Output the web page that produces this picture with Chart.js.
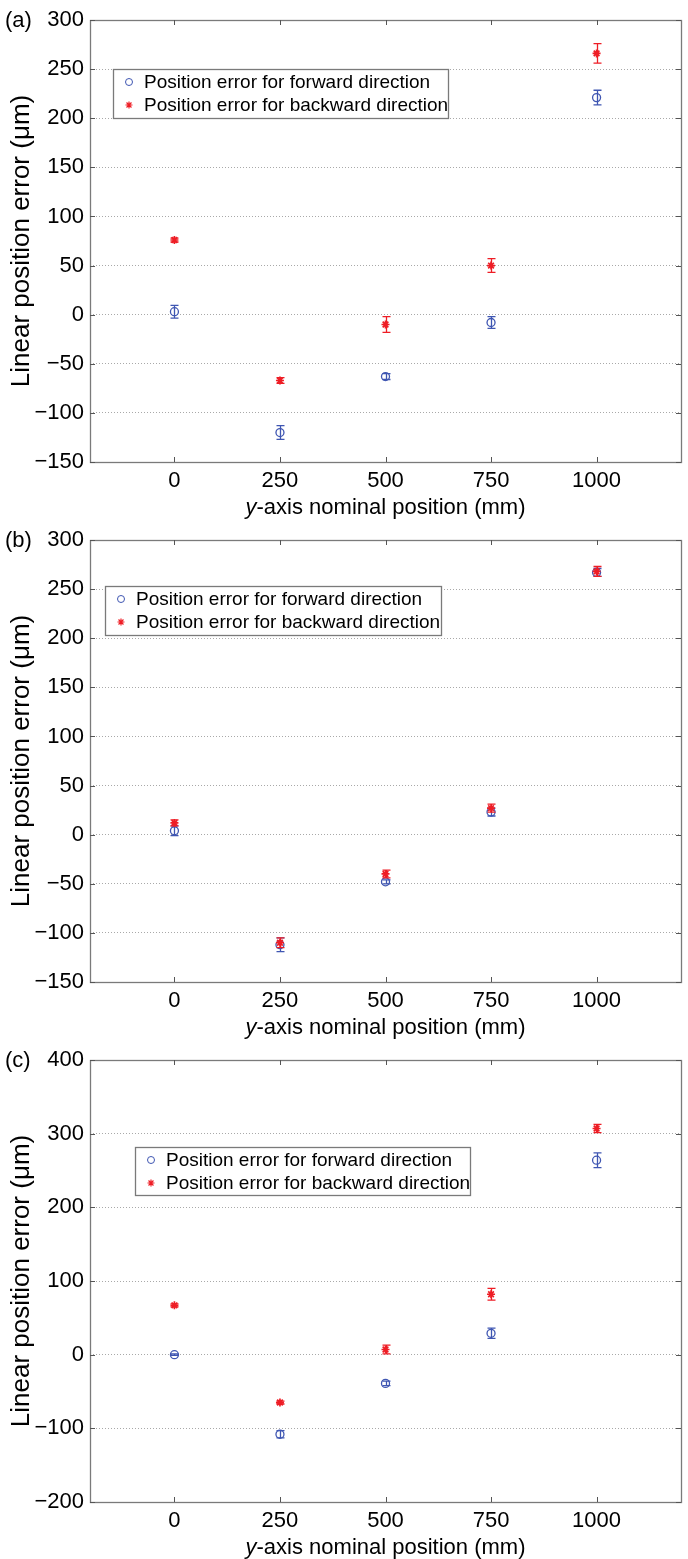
<!DOCTYPE html>
<html><head><meta charset="utf-8">
<script src="https://cdn.jsdelivr.net/npm/chart.js@4.4.1/dist/chart.umd.min.js"></script>
<style>
html,body{margin:0;padding:0;background:#fff;}
canvas{display:block;}
</style></head><body>
<canvas id="ca" width="688" height="520"></canvas>
<canvas id="cb" width="688" height="520"></canvas>
<canvas id="cc" width="688" height="519"></canvas>
<script>
// ---- data ----
const xPositions = [0, 250, 500, 750, 1000];
const xTickValues = [0, 250, 500, 750, 1000];
const legendLabels = ['Position error for forward direction', 'Position error for backward direction'];
const panelLabels = ['(a)', '(b)', '(c)'];

const forwardA = [3, -120, -63, -8, 221];
const forwardErrA = [6.5, 7, 3, 6, 7.5];
const backwardA = [76, -67, -10, 50, 266];
const backwardErrA = [2, 3, 8, 7, 10];

const forwardB = [4, -112, -48, 23, 267];
const forwardErrB = [5, 7, 2, 4, 4];
const backwardB = [12, -110, -40, 27, 268];
const backwardErrB = [3, 5, 4, 4, 5];

const forwardC = [0, -108, -39, 29, 264];
const forwardErrC = [1, 5, 3, 7, 10];
const backwardC = [67, -65, 7, 82, 307];
const backwardErrC = [2, 2, 6, 8, 5.5];

const yRangeA = [-150, 300, 50];
const yRangeB = [-150, 300, 50];
const yRangeC = [-200, 400, 100];

// ---- style ----
const FONT = "'Liberation Sans', Arial, Helvetica, sans-serif";
const BLUE = '#3f56b2';
const RED = '#ee1d25';

function drawMarker(c, style, x, y, r, col, lw) {
  c.save();
  c.strokeStyle = col; c.lineWidth = lw;
  c.beginPath();
  if (style === 'circle') {
    c.arc(x, y, r, 0, Math.PI * 2);
  } else {
    const d = r * Math.SQRT1_2;
    c.moveTo(x - r, y); c.lineTo(x + r, y);
    c.moveTo(x, y - r); c.lineTo(x, y + r);
    c.moveTo(x - d, y - d); c.lineTo(x + d, y + d);
    c.moveTo(x - d, y + d); c.lineTo(x + d, y - d);
  }
  c.stroke();
  c.restore();
}

function makeChart(id, label, fwd, fwdErr, bwd, bwdErr, yRange, legendBox, xAxisHeight) {
  const errs = [fwdErr, bwdErr];
  const decor = {
    id: 'decor_' + id,
    beforeDatasetDraw(chart, args) {
      const ds = chart.data.datasets[args.index];
      const e = errs[ds.errIndex];
      const c = chart.ctx, xs = chart.scales.x, ys = chart.scales.y;
      c.save();
      c.strokeStyle = ds.borderColor; c.lineWidth = 1.3;
      ds.data.forEach((p, i) => {
        const px = Math.round(xs.getPixelForValue(p.x)) + 0.5;
        const y1 = ys.getPixelForValue(p.y + e[i]);
        const y2 = ys.getPixelForValue(p.y - e[i]);
        c.beginPath();
        c.moveTo(px, y1); c.lineTo(px, y2);
        c.moveTo(px - 4, y1); c.lineTo(px + 4, y1);
        c.moveTo(px - 4, y2); c.lineTo(px + 4, y2);
        c.stroke();
      });
      c.restore();
    },
    afterDraw(chart) {
      const c = chart.ctx, a = chart.chartArea, xs = chart.scales.x, ys = chart.scales.y;
      c.save();
      // box
      c.strokeStyle = '#7a7a7a'; c.lineWidth = 1.3;
      c.strokeRect(Math.round(a.left) + 0.5, Math.round(a.top) + 0.5, Math.round(a.right - a.left), Math.round(a.bottom - a.top));
      // inside ticks
      c.strokeStyle = '#555'; c.lineWidth = 1;
      c.beginPath();
      xs.ticks.forEach(t => {
        const px = Math.round(xs.getPixelForValue(t.value)) + 0.5;
        c.moveTo(px, a.bottom); c.lineTo(px, a.bottom - 5);
        c.moveTo(px, a.top); c.lineTo(px, a.top + 5);
      });
      ys.ticks.forEach(t => {
        const py = Math.round(ys.getPixelForValue(t.value)) + 0.5;
        c.moveTo(a.left, py); c.lineTo(a.left + 5, py);
        c.moveTo(a.right, py); c.lineTo(a.right - 5, py);
      });
      c.stroke();
      // legend
      const [lx, ly, lw, lh] = legendBox;
      c.fillStyle = '#fff';
      c.fillRect(lx, ly, lw, lh);
      c.strokeStyle = '#7a7a7a'; c.lineWidth = 1.3;
      c.strokeRect(lx + 0.5, ly + 0.5, lw, lh);
      c.font = '19px ' + FONT; c.fillStyle = '#000';
      c.textAlign = 'left'; c.textBaseline = 'middle';
      const rows = [ly + 13, ly + 36];
      drawMarker(c, 'circle', lx + 16, rows[0], 3.5, BLUE, 1);
      drawMarker(c, 'star', lx + 16, rows[1], 3.5, RED, 1.2);
      c.fillText(legendLabels[0], lx + 31, rows[0] + 1);
      c.fillText(legendLabels[1], lx + 31, rows[1] + 1);
      // x title with italic y
      const cx = (a.left + a.right) / 2, ty = a.bottom + 46;
      c.font = 'italic 22px ' + FONT;
      const w1 = c.measureText('y').width;
      c.font = '22px ' + FONT;
      const rest = '-axis nominal position (mm)';
      const w2 = c.measureText(rest).width;
      const x0 = cx - (w1 + w2) / 2;
      c.font = 'italic 22px ' + FONT;
      c.fillText('y', x0, ty);
      c.font = '22px ' + FONT;
      c.fillText(rest, x0 + w1, ty);
      // panel label
      c.fillText(label, 5, a.top + 1);
      c.restore();
    }
  };

  return new Chart(document.getElementById(id), {
    type: 'scatter',
    data: {
      datasets: [
        {
          label: legendLabels[0], errIndex: 0, order: 1,
          data: xPositions.map((x, i) => ({x, y: fwd[i]})),
          borderColor: BLUE, backgroundColor: 'rgba(0,0,0,0)',
          pointStyle: 'circle', pointRadius: 4, borderWidth: 1.3
        },
        {
          label: legendLabels[1], errIndex: 1, order: 0,
          data: xPositions.map((x, i) => ({x, y: bwd[i]})),
          borderColor: RED, backgroundColor: RED,
          pointStyle: 'star', pointRadius: 4, borderWidth: 1.7
        }
      ]
    },
    options: {
      responsive: false, animation: false, devicePixelRatio: 1,
      layout: {padding: {left: 0, right: 7, top: 20, bottom: 0}},
      plugins: {legend: {display: false}, tooltip: {enabled: false}},
      scales: {
        x: {
          type: 'linear', min: -200, max: 1200,
          afterBuildTicks: s => { s.ticks = xTickValues.map(v => ({value: v})); },
          afterFit: s => { s.height = xAxisHeight; },
          grid: {display: false, drawTicks: false},
          border: {display: false},
          ticks: {
            font: {family: FONT, size: 22}, color: '#000', padding: 6, maxRotation: 0, autoSkip: false,
            callback: v => String(v)
          }
        },
        y: {
          min: yRange[0], max: yRange[1],
          afterFit: s => { s.width = 90; },
          grid: {color: '#a9a9a9', lineWidth: 1, drawTicks: false},
          border: {display: false, dash: [1, 2]},
          ticks: {
            stepSize: yRange[2], font: {family: FONT, size: 22}, color: '#000', padding: 6,
            callback: v => String(v).replace('-', '\u2212')
          },
          title: {
            display: true, text: 'Linear position error (\u03bcm)',
            font: {family: FONT, size: 26}, color: '#000', padding: {top: 6, bottom: 0}
          }
        }
      }
    },
    plugins: [decor]
  });
}

makeChart('ca', panelLabels[0], forwardA, forwardErrA, backwardA, backwardErrA, yRangeA, [113, 69, 335, 49], 58);
makeChart('cb', panelLabels[1], forwardB, forwardErrB, backwardB, backwardErrB, yRangeB, [105, 66, 336, 49], 58);
makeChart('cc', panelLabels[2], forwardC, forwardErrC, backwardC, backwardErrC, yRangeC, [135, 107, 335, 48], 57);
</script>
</body></html>
